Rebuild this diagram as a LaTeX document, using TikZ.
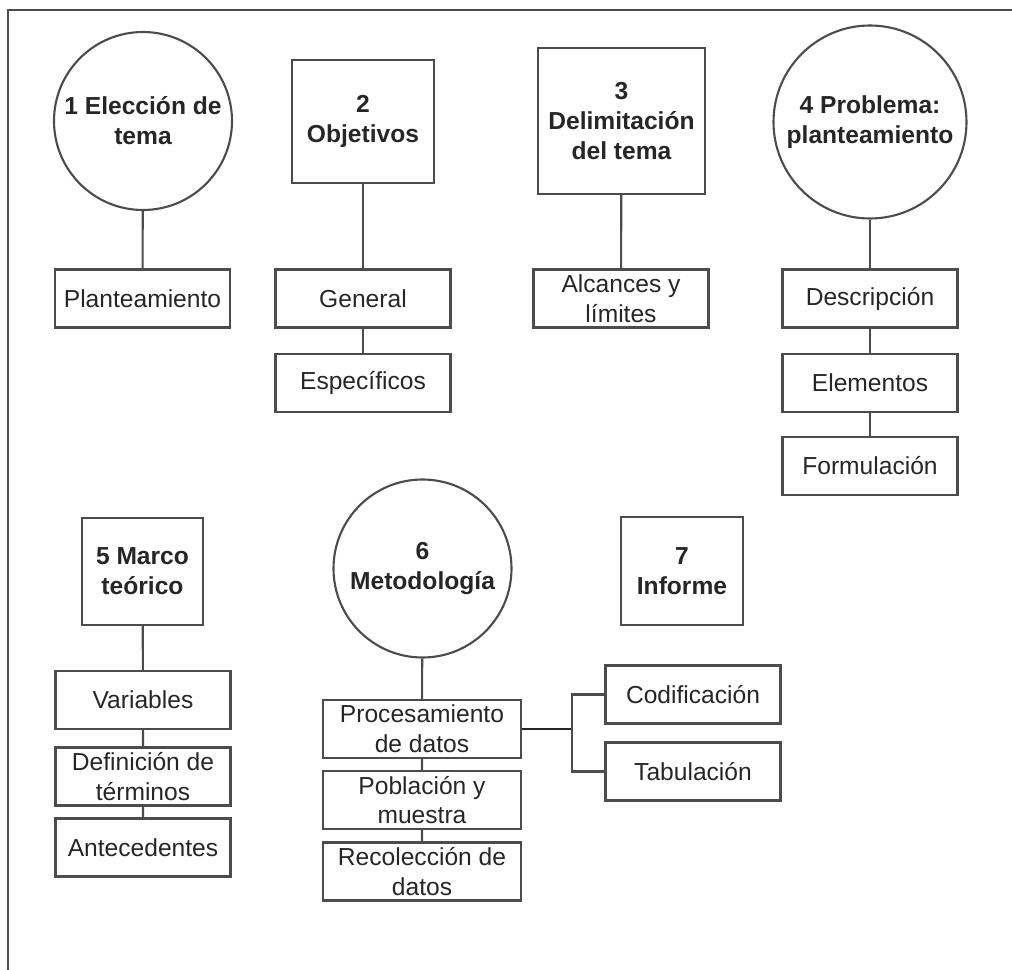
\documentclass[tikz,border=0pt]{standalone}
\usepackage{fontspec}
\setmainfont{Liberation Sans}
\begin{document}
\begin{tikzpicture}[x=0.02cm, y=-0.02cm,
	every node/.style = {font=\fontsize{14}{17}\selectfont, text=black!85, align=center, inner sep=0pt},
	tema/.style = {draw=black!70, line width=1.2pt, circle, minimum size=#1*0.02cm, font=\fontsize{14}{17}\selectfont\bfseries},
	caja/.style = {draw=black!70, line width=1.2pt, font=\fontsize{14}{17}\selectfont\bfseries},
	sub/.style = {draw=black!70, line width=1.2pt, minimum width=175*0.02cm, minimum height=58*0.02cm},
	enlace/.style = {draw=black!70, line width=1.2pt}]
			\useasboundingbox (0,0) rectangle (1012,970);
			% marco
			\draw[black!70,line width=1.2pt] (1012,10) -- (8,10) -- (8,970);
			
			% 1 eleccion de tema
			\node[tema=178] (t1) at (143,121) {1 Elección de\\tema};
			\node[sub] (p1) at (142.5,298.5) {Planteamiento};
			\draw[enlace] (t1) -- (p1);
			
			% 2 objetivos
			\node[caja, minimum width=142*0.02cm, minimum height=123*0.02cm] (t2) at (363,121.5) {2\\Objetivos};
			\node[sub] (gen) at (363,298.5) {General};
			\node[sub] (esp) at (363,383) {Específicos};
			\draw[enlace] (t2) -- (gen) -- (esp);
			
			% 3 delimitacion
			\node[caja, minimum width=167*0.02cm, minimum height=146*0.02cm] (t3) at (621.5,121) {3\\Delimitación\\del tema};
			\node[sub] (alc) at (621,298.5) {Alcances y\\límites};
			\draw[enlace] (t3) -- (alc);
			
			% 4 problema
			\node[tema=193] (t4) at (870,122) {4 Problema:\\planteamiento};
			\node[sub] (desc) at (870,298.5) {Descripción};
			\node[sub] (elem) at (870,383) {Elementos};
			\node[sub] (form) at (870,466) {Formulación};
			\draw[enlace] (t4) -- (desc) -- (elem) -- (form);
			
			% 5 marco teorico
			\node[caja, minimum width=121*0.02cm, minimum height=107*0.02cm] (t5) at (142.5,571.5) {5 Marco\\teórico};
			\node[sub] (var) at (143,700) {Variables};
			\node[sub] (defi) at (143,776.5) {Definición de\\términos};
			\node[sub] (ante) at (143,847.5) {Antecedentes};
			\draw[enlace] (t5) -- (var) -- (defi) -- (ante);
			
			% 6 metodologia
			\node[tema=178] (t6) at (422.5,568.5) {6\\Metodología};
			\node[sub, minimum width=198*0.02cm] (proc) at (422,729) {Procesamiento\\de datos};
			\node[sub, minimum width=198*0.02cm] (pobl) at (422,800) {Población y\\muestra};
			\node[sub, minimum width=198*0.02cm] (reco) at (422,871.5) {Recolección de\\datos};
			\draw[enlace] (t6) -- (proc) -- (pobl) -- (reco);
			
			\node[sub] (cod) at (693,694.5) {Codificación};
			\node[sub] (tab) at (693,771.5) {Tabulación};
			\coordinate (rama) at (572,729);
			\draw[black!85,line width=1.7pt] (proc.east) -- (rama);
			\draw[enlace] (cod.west) -| (rama) |- (tab.west);
			
			% 7 informe
			\node[caja, minimum width=122*0.02cm, minimum height=108*0.02cm] (t7) at (682,571) {7\\Informe};
		\end{tikzpicture}
\end{document}
